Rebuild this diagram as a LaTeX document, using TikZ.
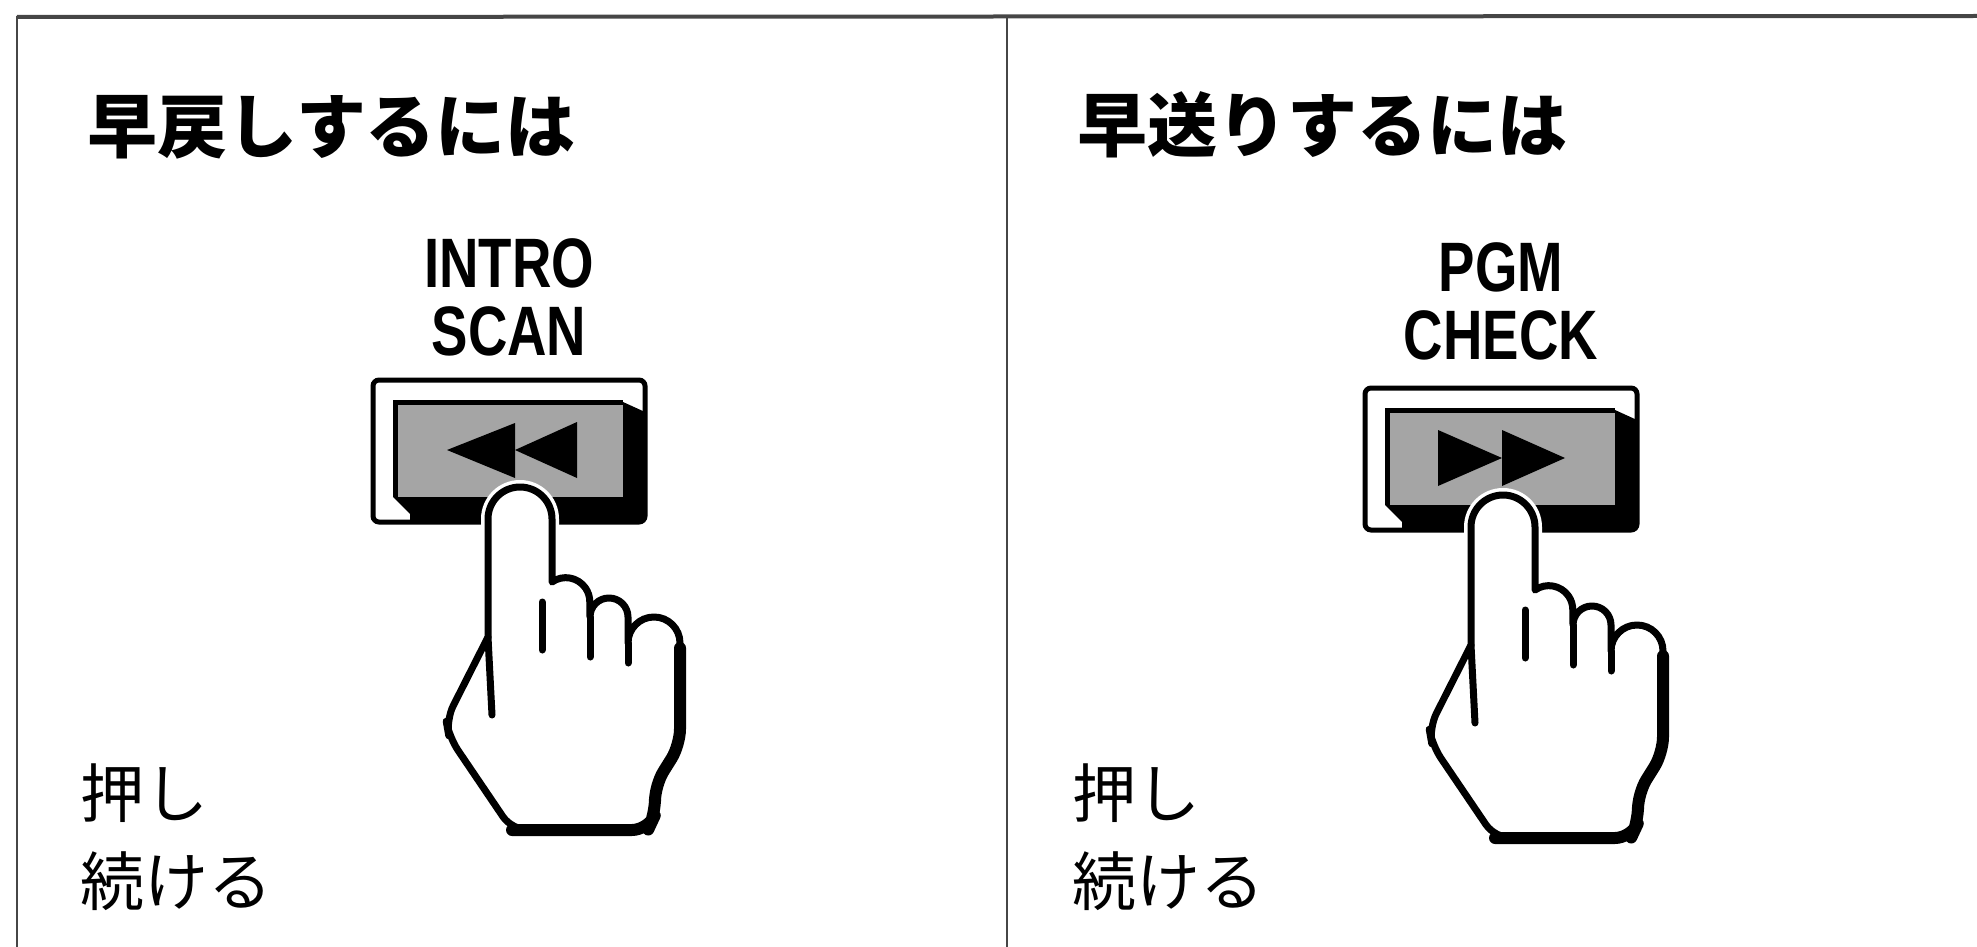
\documentclass[tikz,border=0pt]{standalone}
\usepackage{fontspec}
\usepackage{xcolor}
\usetikzlibrary{positioning}
\newfontfamily\jpfont{Noto Sans CJK JP}
\newfontfamily\btnfont{Liberation Sans}[FakeStretch=0.78]
\definecolor{btngray}{RGB}{165,165,165}
\definecolor{rulegray}{RGB}{70,70,70}

\tikzset{
  heading/.style={anchor=west, inner sep=0pt, font=\jpfont\bfseries\fontsize{35}{40}\selectfont},
  hint/.style={anchor=west, inner sep=0pt, font=\jpfont\fontsize{32}{36}\selectfont},
  btnlabel/.style={inner sep=0pt, font=\btnfont\bfseries\fontsize{35}{40}\selectfont},
  outline/.style={line width=3.5pt, line join=round, line cap=round},
  heavy/.style={line width=6pt, line join=round, line cap=round},
  pushframe/.pic={
    \draw[line width=2.5pt, rounded corners=3] (0,0) rectangle (272,142);
    \fill (20,117) -- (250,117) -- (250,22) -- (272,32) -- (272,142) -- (37,142) -- (37,134) -- cycle;
    \fill[btngray] (22,22) rectangle (250,117);
    \draw[line width=2.5pt] (22,117) -- (22,22) -- (250,22);
  },
  presshand/.pic={
    \draw[white, line width=7pt, line join=round]
      (115,257) -- (115,139) arc[start angle=180, end angle=360, radius=32] -- (179,202);
    \filldraw[fill=white, outline]
      (115,257) -- (115,139) arc[start angle=180, end angle=360, radius=32]
      -- (179,202) arc[start angle=235, end angle=360, radius=24]
      -- (217,237) arc[start angle=180, end angle=360, radius=19]
      -- (255,263) arc[start angle=180, end angle=360, radius=26]
      [rounded corners=8] -- (307,365) -- (282,405) -- (282,435) -- (275,450)
      -- (139,450) -- (76,357) -- (73,340) [sharp corners] -- cycle;
    \draw[outline] (115,257) -- (119,335);
    \draw[outline] (169,222) -- (169,270);
    \draw[outline] (217,237) -- (217,277);
    \draw[outline] (255,263) -- (255,283);
    \draw[heavy, rounded corners=8] (307,268) -- (307,365) -- (282,405) -- (282,435) -- (275,450) -- (139,450);
  }
}

\begin{document}
\begin{tikzpicture}[x=0.5pt, y=-0.5pt]
  \useasboundingbox (0,0) rectangle (1977,947);

  % table rules
  \draw[rulegray, line width=2pt] (17,17) -- (1977,16);
  \draw[rulegray, line width=1.3pt] (17,16) -- (17,947);
  \draw[rulegray, line width=1.3pt] (1007,16) -- (1007,947);

  % left panel: rewind
  \node[heading] (rewtitle) at (87,127) {早戻しするには};
  \node[btnlabel] (intro) at (509,263) {INTRO};
  \node[btnlabel, below=9pt of intro] (scan) {SCAN};
  \pic at (373,380) {pushframe};
  \fill (447,450) -- (515,423) -- (515,478) -- cycle;
  \fill (515,450) -- (577,422) -- (577,478) -- cycle;
  \pic at (373,380) {presshand};
  \node[hint] (rewpush) at (80,793) {押し};
  \node[hint] (rewhold) at (80,881) {続ける};

  % right panel: fast forward
  \node[heading] (fwdtitle) at (1077,125) {早送りするには};
  \node[btnlabel] (pgm) at (1501,267) {PGM};
  \node[btnlabel, below=9pt of pgm] (check) {CHECK};
  \pic at (1365,388) {pushframe};
  \fill (1438,430) -- (1502,458) -- (1438,486) -- cycle;
  \fill (1502,430) -- (1565,458) -- (1502,486) -- cycle;
  \pic at (1356,388) {presshand};
  \node[hint] (fwdpush) at (1072,793) {押し};
  \node[hint] (fwdhold) at (1072,881) {続ける};
\end{tikzpicture}
\end{document}
